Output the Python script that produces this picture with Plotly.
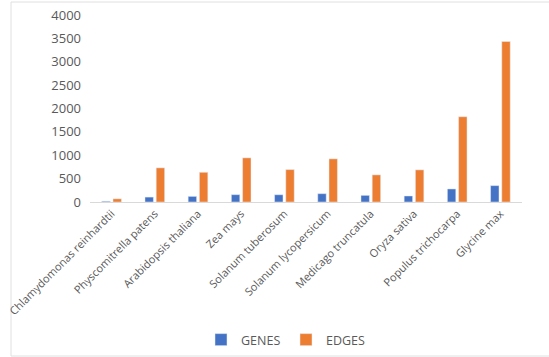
import plotly.graph_objects as go

categories = ["Chlamydomonas reinhardtii", "Physcomitrella patens", "Arabidopsis thaliana",
              "Zea mays", "Solanum tuberosum", "Solanum lycopersicum", "Medicago truncatula",
              "Oryza sativa", "Populus trichocarpa", "Glycine max"]
genes = [15, 105, 120, 157, 155, 178, 142, 129, 279, 350]
edges = [68, 730, 635, 944, 693, 923, 580, 687, 1824, 3433]
y_ticks = [0, 500, 1000, 1500, 2000, 2500, 3000, 3500, 4000]

W, H = 549, 357
L, R, T, B = 90, 27, 15, 155
pw, ph = W - L - R, H - T - B

def px(x):
    return (x - L) / pw

def py(y):
    return (H - B - y) / ph

fig = go.Figure()
fig.add_trace(go.Bar(name="GENES", x=categories, y=genes, marker_color="#4472C4"))
fig.add_trace(go.Bar(name="EDGES", x=categories, y=edges, marker_color="#ED7D31"))

font = "Open Sans, Liberation Sans, sans-serif"
fig.update_layout(
    width=W, height=H,
    margin=dict(l=L, r=R, t=T, b=B, autoexpand=False),
    paper_bgcolor="white", plot_bgcolor="white",
    barmode="group", bargap=0.48, bargroupgap=0.25,
    font=dict(family=font, size=12, color="#595959"),
    showlegend=True,
    legend=dict(orientation="h", x=px(286), y=py(325), xanchor="center", yanchor="top",
                font=dict(size=12.5, color="#595959"), itemwidth=30, traceorder="normal",
                entrywidth=40, entrywidthmode="pixels", bgcolor="rgba(0,0,0,0)"),
    xaxis=dict(tickangle=-45, showline=True, linecolor="#d9d9d9", linewidth=1,
               ticks="", showgrid=False, tickfont=dict(size=11, color="#595959")),
    yaxis=dict(range=[0, 4000], tickvals=y_ticks, showgrid=False, zeroline=False,
               showline=False, ticks="", tickfont=dict(size=13, color="#595959"),
               ticklabelstandoff=8),
    shapes=[dict(type="rect", xref="paper", yref="paper",
                 x0=px(11), x1=px(W + 20), y0=py(356), y1=py(2),
                 line=dict(color="#e0e0e0", width=1), fillcolor="rgba(0,0,0,0)", layer="below")],
)

fig.write_html("out.html")
